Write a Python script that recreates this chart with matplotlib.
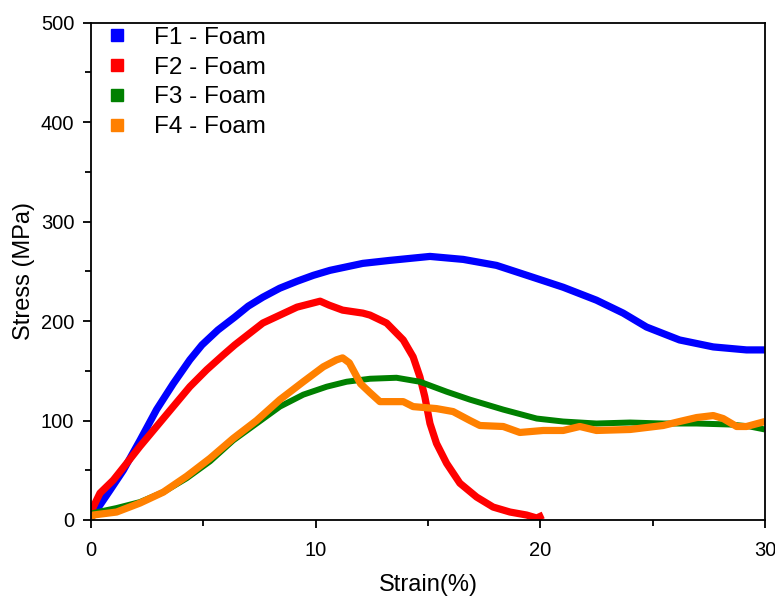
import numpy as np
import matplotlib.pyplot as plt
from matplotlib.lines import Line2D
from matplotlib.ticker import MultipleLocator

plt.rcParams['font.family'] = ['Liberation Sans', 'DejaVu Sans']

# strain (%) / stress (MPa)
f1_x = [0, 0.25, 0.85, 1.44, 2.18, 2.92, 3.66, 4.4, 4.94, 5.65, 6.4, 7.0, 7.65, 8.4, 9.17,
        9.9, 10.64, 12.1, 13.3, 15.09, 16.57, 18.05, 19.54, 21.02, 22.5, 23.69, 24.73, 26.2,
        27.7, 29.18, 30.0]
f1_y = [2, 10, 30, 50, 80, 111, 137, 161, 176, 191, 204, 215, 224, 233, 240,
        246, 251, 258, 261, 265, 262, 256, 245, 234, 221, 208, 194, 181,
        174, 171, 171]

f2_x = [0, 0.1, 0.4, 0.99, 1.59, 2.18, 2.92, 3.66, 4.4, 5.15, 5.89, 6.4, 7.65, 9.17, 10.2,
        10.6, 11.2, 12.1, 12.42, 13.16, 13.9, 14.34, 14.64, 14.86, 15.09, 15.38, 15.83, 16.42,
        17.17, 17.9, 18.65, 19.39, 19.84, 20.13]
f2_y = [5, 13, 27, 40, 57, 74, 94, 114, 134, 151, 166, 176, 198, 214, 220,
        216, 211, 208, 206, 198, 181, 164, 144, 124, 97, 77, 57, 37,
        23, 13, 8, 5, 2, 5]

f3_x = [0, 0.1, 1.14, 2.18, 3.22, 4.26, 5.3, 6.33, 7.37, 8.41, 9.45, 10.49, 11.38, 12.42,
        13.6, 14.64, 15.83, 16.87, 18.35, 19.84, 21.02, 22.5, 24.0, 25.47, 26.96, 28.44,
        29.33, 30.0]
f3_y = [4, 7, 12, 18, 28, 42, 59, 80, 97, 114, 126, 134, 139, 142,
        143, 139, 129, 121, 111, 102, 99, 97, 98, 97, 97, 96,
        94, 91]

f4_x = [0, 0.1, 1.14, 2.18, 3.22, 4.26, 5.3, 6.33, 7.37, 8.41, 9.45, 10.34, 10.93, 11.2,
        11.5, 12.0, 12.42, 12.86, 13.9, 14.34, 15.38, 16.12, 16.87, 17.31, 18.35, 19.09,
        20.13, 21.02, 21.76, 22.5, 24.0, 25.47, 26.2, 26.96, 27.7, 28.14, 28.74, 29.18, 30.0]
f4_y = [2, 5, 8, 17, 28, 44, 62, 82, 100, 121, 139, 154, 161, 163,
        158, 137, 128, 119, 119, 114, 112, 109, 100, 95, 94, 88,
        90, 90, 94, 90, 91, 95, 99, 103, 105, 102, 94, 94, 99]

labels = ['F1 - Foam', 'F2 - Foam', 'F3 - Foam', 'F4 - Foam']
colors = ['#0000ff', '#ff0000', '#008000', '#ff8000']

fig = plt.figure(figsize=(7.75, 5.97), dpi=100)
ax = fig.add_axes([0.1174, 0.129, 0.8696, 0.833])

series = [(f1_x, f1_y), (f2_x, f2_y), (f3_x, f3_y), (f4_x, f4_y)]
widths = [5.2, 5.2, 4.3, 5.2]
for (x, y), c, lw in zip(series, colors, widths):
    ax.plot(x, y, color=c, lw=lw, solid_capstyle='butt', solid_joinstyle='round')

ax.set_xlim(0, 30)
ax.set_ylim(0, 500)
ax.xaxis.set_major_locator(MultipleLocator(10))
ax.xaxis.set_minor_locator(MultipleLocator(5))
ax.yaxis.set_major_locator(MultipleLocator(100))
ax.yaxis.set_minor_locator(MultipleLocator(50))
ax.tick_params(which='both', direction='out', labelsize=14.5, width=1.3, top=False, right=False)
ax.tick_params(which='major', length=6)
ax.tick_params(which='minor', length=4)
ax.tick_params(axis='x', pad=9)
ax.tick_params(axis='y', pad=6)
for s in ax.spines.values():
    s.set_linewidth(1.3)

ax.set_xlabel('Strain(%)', fontsize=17, labelpad=10)
ax.set_ylabel('Stress (MPa)', fontsize=17, labelpad=4)

handles = [Line2D([], [], ls='none', marker='s', ms=9.3, color=c) for c in colors]
ax.legend(handles, labels, loc='upper left', bbox_to_anchor=(0.0, 1.02), frameon=False,
          fontsize=17.5, handlelength=1.0, handletextpad=1.0, labelspacing=0.32,
          borderpad=0.3, borderaxespad=0.28)

fig.savefig('out.png', dpi=100)
